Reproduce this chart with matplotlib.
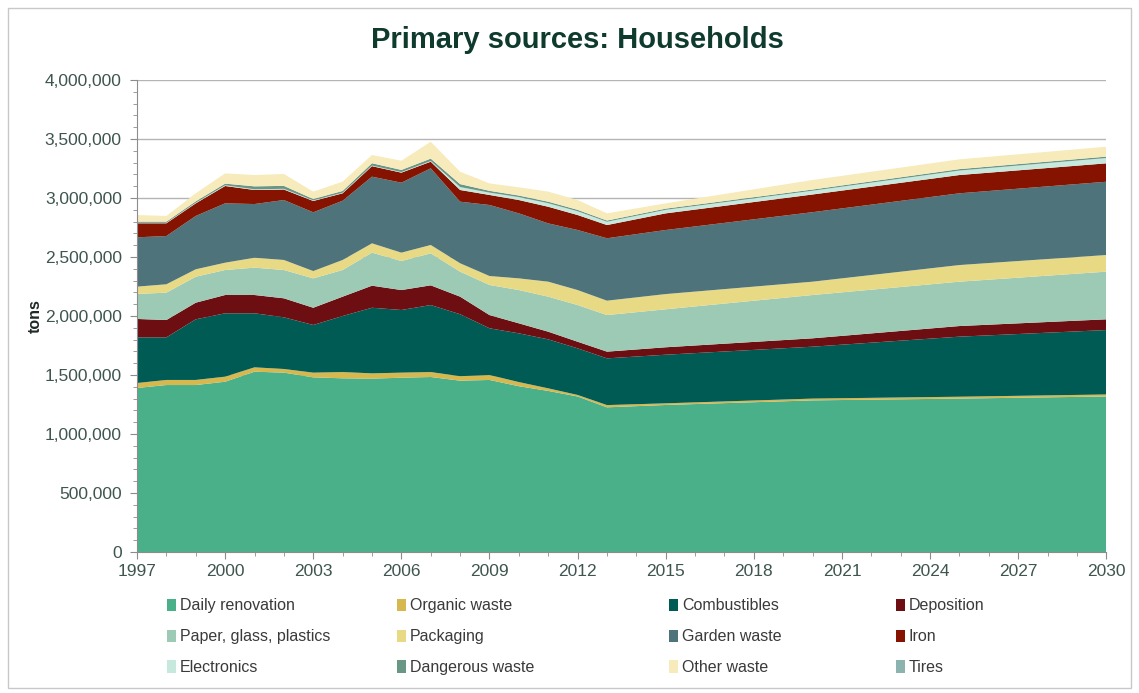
import matplotlib.pyplot as plt
from matplotlib.ticker import FuncFormatter, MultipleLocator, FixedLocator
from matplotlib.patches import Rectangle, Patch

plt.rcParams['font.family'] = ['Liberation Sans', 'DejaVu Sans']

# --- Data (thousand tons) ---
years = [1997, 1998, 1999, 2000, 2001, 2002, 2003, 2004, 2005, 2006, 2007,
         2008, 2009, 2010, 2011, 2012, 2013, 2015, 2020, 2025, 2030]

daily_renovation = [1390, 1415, 1415, 1443, 1528, 1520, 1480, 1472, 1469, 1477, 1483,
                    1452, 1458, 1405, 1365, 1318, 1226, 1246, 1285, 1300, 1318]
organic_waste = [42, 43, 43, 43, 37, 31, 40, 53, 45, 43, 42,
                 38, 42, 35, 22, 13, 19, 14, 15, 16, 17]
combustibles = [387, 361, 514, 537, 458, 438, 404, 475, 556, 531, 568,
                525, 396, 413, 415, 395, 396, 412, 440, 509, 546]
deposition = [156, 147, 141, 155, 155, 161, 146, 164, 187, 169, 167,
              149, 112, 85, 65, 56, 57, 63, 71, 90, 91]
paper_glass_plastics = [212, 232, 220, 212, 232, 240, 249, 226, 280, 246, 271,
                        212, 255, 282, 297, 311, 310, 322, 367, 376, 404]
packaging = [62, 71, 63, 62, 84, 85, 62, 85, 79, 71, 71,
             71, 76, 99, 127, 127, 122, 129, 113, 141, 141]
garden_waste = [418, 409, 452, 503, 455, 508, 498, 502, 565, 593, 650,
                522, 602, 551, 494, 509, 529, 543, 589, 608, 621]
iron = [119, 108, 107, 147, 119, 89, 96, 63, 89, 85, 56,
        99, 85, 113, 141, 127, 112, 141, 150, 155, 156]
electronics = [4, 4, 5, 6, 6, 6, 5, 5, 5, 5, 6,
               25, 20, 25, 30, 32, 28, 30, 32, 38, 45]
dangerous_waste = [10, 10, 12, 14, 25, 25, 12, 15, 20, 18, 20,
                   25, 15, 13, 13, 12, 10, 10, 10, 12, 12]
other_waste = [56, 48, 68, 87, 96, 101, 62, 79, 70, 78, 143,
               105, 63, 70, 85, 83, 61, 45, 81, 83, 84]
tires = [0, 0, 0, 0, 0, 0, 0, 0, 0, 0, 0,
         0, 0, 0, 0, 0, 0, 0, 0, 0, 0]

labels = ['Daily renovation', 'Organic waste', 'Combustibles', 'Deposition',
          'Paper, glass, plastics', 'Packaging', 'Garden waste', 'Iron',
          'Electronics', 'Dangerous waste', 'Other waste', 'Tires']
series = [daily_renovation, organic_waste, combustibles, deposition,
          paper_glass_plastics, packaging, garden_waste, iron,
          electronics, dangerous_waste, other_waste, tires]
colors = ['#4AB08A', '#D6B84F', '#005B55', '#6D0F12',
          '#9DCAB5', '#E8D985', '#4E737A', '#861300',
          '#C6E8DD', '#6A9686', '#F7EBBB', '#8DB3AE']

values = [[v * 1000 for v in s] for s in series]

# --- Figure ---
fig = plt.figure(figsize=(11.39, 6.93), dpi=100)
ax = fig.add_axes([0.1203, 0.2035, 0.851, 0.681])

ax.stackplot(years, values, colors=colors, labels=labels, linewidth=0, zorder=2)

ax.set_xlim(1997, 2030)
ax.set_ylim(0, 4000000)
ax.xaxis.set_major_locator(FixedLocator(list(range(1997, 2031, 3))))
ax.xaxis.set_minor_locator(MultipleLocator(1))
ax.yaxis.set_major_locator(MultipleLocator(500000))
ax.yaxis.set_minor_locator(MultipleLocator(100000))
ax.yaxis.set_major_formatter(FuncFormatter(lambda v, p: f'{int(v):,}'))

ax.grid(axis='y', which='major', color='#B4B4B4', linewidth=1, zorder=0)
ax.set_axisbelow(True)

for side in ['top', 'right']:
    ax.spines[side].set_visible(False)
for side in ['left', 'bottom']:
    ax.spines[side].set_color('#8C8C8C')

ax.tick_params(axis='both', which='major', colors='#8C8C8C', length=5,
               labelsize=12.5, labelcolor='#3E5550')
ax.tick_params(axis='both', which='minor', colors='#8C8C8C', length=3)
ax.tick_params(axis='y', pad=6)

ax.set_ylabel('tons', fontsize=11.5, fontweight='bold', color='#1E2A27', labelpad=1)

fig.text(0.507, 0.942, 'Primary sources: Households', ha='center', va='center',
         fontsize=21, fontweight='bold', color='#0F3A2E')

# --- Legend: rows read left to right, one legend per column ---
col_x = [0.141, 0.343, 0.582, 0.781]
for c in range(4):
    idx = [c, c + 4, c + 8]
    handles = [Patch(facecolor=colors[i], edgecolor='none') for i in idx]
    fig.legend(handles, [labels[i] for i in idx], loc='upper left',
               bbox_to_anchor=(col_x[c], 0.146), frameon=False,
               fontsize=11.5, handlelength=0.55, handleheight=0.8,
               handletextpad=0.25, labelspacing=1.0, borderaxespad=0,
               labelcolor='#3A3A3A')

# outer frame
fig.patches.append(Rectangle((0.007, 0.007), 0.986, 0.981, transform=fig.transFigure,
                             fill=False, edgecolor='#C8C8C8', linewidth=1))

fig.savefig('out.png', dpi=100)
